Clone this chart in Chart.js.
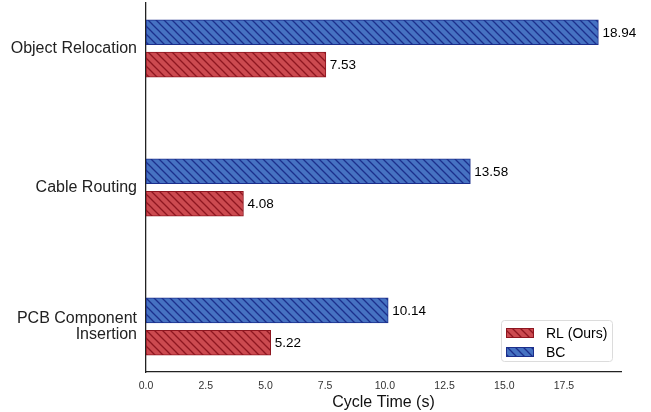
<!DOCTYPE html>
<html>
<head>
<meta charset="utf-8">
<script src="https://cdn.jsdelivr.net/npm/chart.js@4.4.1/dist/chart.umd.min.js"></script>
<style>
  html, body { margin: 0; padding: 0; background: #fff; }
  #wrap { width: 651px; height: 412px; }
</style>
</head>
<body>
<div id="wrap"><canvas id="cycleChart" width="651" height="412"></canvas></div>
<script>
// data
const tasks = ['Object Relocation', 'Cable Routing', ['PCB Component', 'Insertion']];
const rlTimes = [7.53, 4.08, 5.22];
const bcTimes = [18.94, 13.58, 10.14];
const xTicks = [0, 2.5, 5, 7.5, 10, 12.5, 15, 17.5];

const FONT = "'Liberation Sans', Arial, sans-serif";
const BAR_OFFSET = 0.1166;

// diagonal hatch like matplotlib '\\\\'
function makeHatch(fill, line) {
    const c = document.createElement('canvas');
    c.width = 8;
    c.height = 8;
    const g = c.getContext('2d');
    g.fillStyle = fill;
    g.fillRect(0, 0, 8, 8);
    g.strokeStyle = line;
    g.lineWidth = 1.3;
    g.beginPath();
    g.moveTo(-8, -8); g.lineTo(16, 16);
    g.moveTo(-8, 0); g.lineTo(8, 16);
    g.moveTo(0, -8); g.lineTo(16, 8);
    g.stroke();
    return g.createPattern(c, 'repeat');
}

const ctx = document.getElementById('cycleChart').getContext('2d');
const rlFill = makeHatch('#cc4a50', '#8e1620');
const bcFill = makeHatch('#4672c2', '#1c2f8c');

// numbers at the end of each bar
const valueLabels = {
    id: 'valueLabels',
    afterDatasetsDraw(chart) {
        const c = chart.ctx;
        c.save();
        c.font = '13.5px ' + FONT;
        c.fillStyle = '#000';
        c.textBaseline = 'middle';
        chart.data.datasets.forEach((ds, i) => {
            chart.getDatasetMeta(i).data.forEach((bar, j) => {
                c.fillText(ds.data[j].x.toFixed(2), bar.x + 4, bar.y + 1);
            });
        });
        c.restore();
    }
};

// boxed legend in the lower right corner
const boxLegend = {
    id: 'boxLegend',
    afterDraw(chart) {
        const c = chart.ctx;
        const x0 = 501, y0 = 320, w = 111, h = 41;
        c.save();
        c.fillStyle = 'rgba(255,255,255,0.85)';
        c.strokeStyle = '#dcdcdc';
        c.lineWidth = 1;
        c.beginPath();
        c.roundRect(x0 + 0.5, y0 + 0.5, w, h, 3);
        c.fill();
        c.stroke();
        c.font = '14px ' + FONT;
        c.textBaseline = 'middle';
        chart.data.datasets.forEach((ds, i) => {
            const yy = y0 + 13 + i * 19;
            c.fillStyle = ds.backgroundColor;
            c.fillRect(506, yy - 5, 28, 10);
            c.strokeStyle = ds.borderColor;
            c.lineWidth = 1;
            c.strokeRect(506.5, yy - 4.5, 27, 9);
            c.fillStyle = '#000';
            c.fillText(ds.label, 546, yy + 1);
        });
        c.restore();
    }
};

new Chart(ctx, {
    type: 'bar',
    data: {
        datasets: [
            {
                label: 'RL (Ours)',
                data: rlTimes.map((v, i) => ({ x: v, y: i + BAR_OFFSET })),
                backgroundColor: rlFill,
                borderColor: '#8e1620',
                borderWidth: 1,
                borderSkipped: false
            },
            {
                label: 'BC',
                data: bcTimes.map((v, i) => ({ x: v, y: i - BAR_OFFSET })),
                backgroundColor: bcFill,
                borderColor: '#1c2f8c',
                borderWidth: 1,
                borderSkipped: false
            }
        ]
    },
    options: {
        indexAxis: 'y',
        responsive: false,
        animation: false,
        grouped: false,
        barThickness: 25,
        layout: { padding: { top: 3, right: 30, left: 0, bottom: 0 } },
        plugins: {
            legend: { display: false },
            tooltip: { enabled: false }
        },
        scales: {
            x: {
                type: 'linear',
                min: 0,
                max: 19.887,
                offset: false,
                afterBuildTicks: (scale) => { scale.ticks = xTicks.map(v => ({ value: v })); },
                afterFit: (scale) => {
                    scale.height = 40;
                    scale.paddingLeft = 0;
                    scale.paddingRight = 0;
                },
                grid: { display: false, drawTicks: false },
                border: { display: true, color: '#222', width: 1.3 },
                ticks: {
                    padding: 8,
                    color: '#333',
                    font: { family: FONT, size: 10.5 },
                    callback: (v) => Number(v).toFixed(1)
                },
                title: {
                    display: true,
                    text: 'Cycle Time (s)',
                    color: '#111',
                    font: { family: FONT, size: 16 },
                    padding: { top: 0, bottom: 0 }
                }
            },
            y: {
                type: 'linear',
                reverse: true,
                min: -0.327,
                max: 2.327,
                offset: false,
                afterBuildTicks: (scale) => { scale.ticks = tasks.map((t, i) => ({ value: i })); },
                afterFit: (scale) => {
                    scale.width = 146;
                    scale.paddingTop = 0;
                    scale.paddingBottom = 0;
                },
                grid: { display: false, drawTicks: false },
                border: { display: true, color: '#222', width: 1.3 },
                ticks: {
                    padding: 9,
                    color: '#222',
                    font: { family: FONT, size: 16, lineHeight: 1.0 },
                    callback: (v) => tasks[v]
                }
            }
        }
    },
    plugins: [valueLabels, boxLegend]
});
</script>
</body>
</html>
